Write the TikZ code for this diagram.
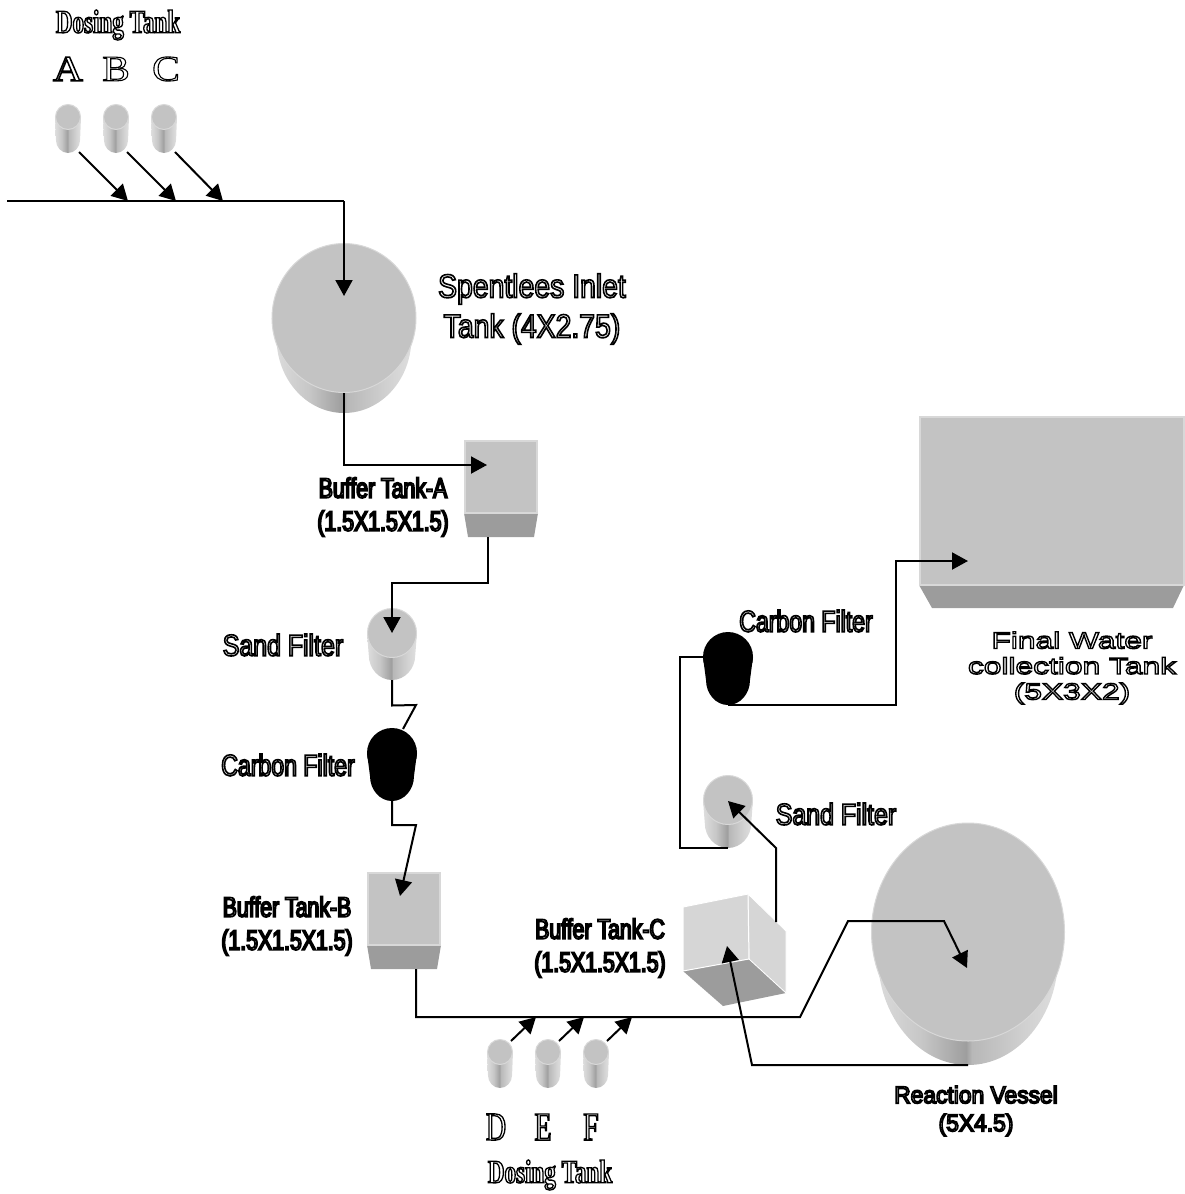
\documentclass[tikz,border=0pt]{standalone}
\usepackage{fontspec}
\usetikzlibrary{arrows.meta}
\setmainfont{Liberation Sans}
\newfontfamily\sansnorm[FakeStretch=0.86]{Liberation Sans}
\newfontfamily\sansbuffer[FakeStretch=0.76]{Liberation Sans}
\newfontfamily\sanssand[FakeStretch=0.83]{Liberation Sans}
\newfontfamily\sanscarbon[FakeStretch=0.77]{Liberation Sans}
\newfontfamily\sansvessel[FakeStretch=0.95]{Liberation Sans}
\newfontfamily\sanswide[FakeStretch=1.38]{Liberation Sans}
\newfontfamily\serifnarrow[FakeStretch=0.70]{Liberation Serif}
\newfontfamily\serifbold[FakeStretch=1.15]{Liberation Serif}
\newcommand{\olt}[1]{\special{pdf:code 1 Tr #1 w 0 0 0 RG}}
\pgfdeclarehorizontalshading{cylbody}{100bp}{rgb(0bp)=(.86,.86,.86);rgb(25bp)=(.87,.87,.87);rgb(38bp)=(.78,.78,.78);rgb(49.5bp)=(.62,.62,.62);rgb(51bp)=(.72,.72,.72);rgb(65bp)=(.82,.82,.82);rgb(75bp)=(.88,.88,.88);rgb(100bp)=(.88,.88,.88)}
\definecolor{tanktop}{HTML}{C3C3C3}
\definecolor{tankrim}{HTML}{D8D8D8}
\definecolor{tankside}{HTML}{9C9C9C}
\definecolor{cubeface}{HTML}{D6D6D6}
\tikzset{
  pipe/.style={line width=2pt,line join=miter},
  flow/.style={pipe,-{Triangle[length=16pt,width=17pt]}},
  label/.style={inner sep=0pt,align=center,text=black},
  lnorm/.style={label,font=\sansnorm\fontsize{33}{40}\selectfont},
  lbuffer/.style={label,font=\sansbuffer\fontsize{28}{33}\selectfont},
  lsand/.style={label,font=\sanssand\fontsize{30}{34}\selectfont},
  lcarbon/.style={label,font=\sanscarbon\fontsize{30}{34}\selectfont},
  lvess/.style={label,font=\sansvessel\fontsize{24}{28}\selectfont},
  lwide/.style={label,font=\sanswide\fontsize{23}{25.5}\selectfont},
  lserif/.style={label,font=\serifnarrow\bfseries\fontsize{33}{38}\selectfont},
  lletter/.style={label,font=\serifbold\fontsize{36}{40}\selectfont},
  lletterb/.style={label,font=\serifnarrow\fontsize{40}{40}\selectfont},
  boxtop/.style={fill=tanktop,draw=tankrim,line width=1.5pt},
  boxbase/.style={fill=tankside,draw=none},
}
% name, cx, cy, rx, ry, bottom
\newcommand{\cylgray}[6]{%
  \shade[shading=cylbody] ({#2-#4},#3) -- ({#2-.93*#4},{#6-#5}) arc[start angle=180,end angle=0,x radius={.93*#4},y radius=#5] -- ({#2+#4},#3) -- cycle;
  \fill[tanktop,draw=tankrim,line width=1pt] (#2,#3) ellipse[x radius={#4-.5},y radius={#5-.5}];
  \coordinate (#1) at (#2,#3);
  \coordinate (#1-b) at (#2,#6);
  \coordinate (#1-w) at ({#2-#4},#3);
}
\newcommand{\cylblack}[6]{%
  \fill[black] ({#2-#4},#3) -- ({#2-.88*#4},{#6-#5}) arc[start angle=180,end angle=0,x radius={.88*#4},y radius=#5] -- ({#2+#4},#3) -- cycle;
  \fill[black] (#2,#3) ellipse[x radius=#4,y radius=#5];
  \coordinate (#1) at (#2,#3);
  \coordinate (#1-b) at (#2,#6);
  \coordinate (#1-w) at ({#2-#4},#3);
}
\begin{document}
\begin{tikzpicture}[x=1pt,y=-1pt]
\useasboundingbox (0,0) rectangle (1185,1194);
% dosing tanks
\cylgray{tA}{68}{117}{13}{13}{153}
\cylgray{tB}{116}{117}{13}{13}{153}
\cylgray{tC}{164}{117}{13}{13}{153}
\cylgray{tD}{500}{1052}{13}{13}{1088}
\cylgray{tE}{548}{1052}{13}{13}{1088}
\cylgray{tF}{596}{1052}{13}{13}{1088}
% large tanks
\cylgray{inlet}{344}{318}{72.5}{75}{413}
\cylgray{vessel}{968}{932}{97}{109.5}{1065}
% filters
\cylgray{sandA}{392}{633}{25}{25}{680}
\cylgray{sandB}{728}{800}{25}{25}{848}
\cylblack{carbA}{392}{753}{25}{25}{801}
\cylblack{carbB}{728}{657}{25}{25}{705}
% buffer A
\fill[boxbase] (464,513) -- (538,513) -- (534,537) -- (468,537) -- cycle;
\path[boxtop] (465,441) rectangle (537,513);
\coordinate (bufA-in) at (487,465);
\coordinate (bufA-out) at (488,537);
% buffer B
\fill[boxbase] (367,945) -- (441,945) -- (437,969) -- (371,969) -- cycle;
\path[boxtop] (368,873) rectangle (440,945);
\coordinate (bufB-in) at (400,896);
\coordinate (bufB-out) at (416,969);
% final tank
\fill[boxbase] (919,585) -- (1184,585) -- (1173,608) -- (932,608) -- cycle;
\path[boxtop] (920,417) rectangle (1184,585);
\coordinate (final-in) at (968,561);
% buffer C
\fill[tankside] (683,971) -- (723,1006) -- (786,993) -- (749,959) -- cycle;
\path[fill=cubeface,draw=white,line width=.8pt] (748,894) -- (786,931) -- (786,993) -- (749,959) -- cycle;
\path[fill=cubeface,draw=white,line width=1pt] (683,907) -- (748,894) -- (749,959) -- (683,971) -- cycle;
\coordinate (bufC-in) at (727,946);
\coordinate (bufC-out) at (776,922);
% bends and free ends
\coordinate (mainstart) at (7,201);
\coordinate (mainbend) at (344,201);
\coordinate (joinA) at (128,201);
\coordinate (joinB) at (176,201);
\coordinate (joinC) at (223,201);
\coordinate (joinD) at (536,1017);
\coordinate (joinE) at (584,1017);
\coordinate (joinF) at (632,1017);
\coordinate (inlet-in) at (344,296);
\coordinate (inlet-out) at (344,393);
\coordinate (sandA-in) at (392,633);
\coordinate (sandB-in) at (728,801);
\coordinate (vessel-in) at (967,968);
% connectors
\draw[pipe] (mainstart) -- (mainbend);
\draw[flow] (mainbend) -- (inlet-in);
\draw[flow] (79,152) -- (joinA);
\draw[flow] (127,152) -- (joinB);
\draw[flow] (175,152) -- (joinC);
\draw[flow] (inlet-out) |- (bufA-in);
\draw[flow] (bufA-out) -- (488,583) -- (392,583) -- (sandA-in);
\draw[pipe] (sandA-b) -- (392,705.5) -- (416,705) -- (403,729);
\draw[flow] (carbA-b) -- (392,825) -- (416,825) -- (bufB-in);
\draw[flow] (bufB-out) -- (416,1017) -- (800,1017) -- (848,921) -- (944,921) -- (vessel-in);
\draw[flow] (511,1041) -- (joinD);
\draw[flow] (559,1041) -- (joinE);
\draw[flow] (607,1041) -- (joinF);
\draw[flow] (vessel-b) -- (752,1065) -- (bufC-in);
\draw[flow] (bufC-out) -- (776,848) -- (sandB-in);
\draw[pipe] (sandB-b) -- (680,848) -- (680,657) -- (carbB-w);
\draw[flow] (carbB-b) -- (896,705) -- (896,561) -- (final-in);
% labels
\node[lserif] (dosing1) at (118,25) {\olt{1.3}Dosing Tank};
\node[lletter] (lA) at (68,69) {\olt{1.5}A};
\node[lletter] (lB) at (116,69) {\olt{1.1}B};
\node[lletter] (lC) at (166,69) {\olt{1.1}C};
\node[lnorm] (linlet) at (532,309) {\olt{1.6}Spentlees Inlet\\\olt{1.6}Tank (4X2.75)};
\node[lbuffer] (lbufA) at (383,507) {\olt{1.7}Buffer Tank-A\\\olt{1.7}(1.5X1.5X1.5)};
\node[lsand] (lsandA) at (283,645) {\olt{1.6}Sand Filter};
\node[lcarbon] (lcarbA) at (288,765) {\olt{1.6}Carbon Filter};
\node[lbuffer] (lbufB) at (287,926) {\olt{1.7}Buffer Tank-B\\\olt{1.7}(1.5X1.5X1.5)};
\node[lbuffer] (lbufC) at (600,948) {\olt{1.7}Buffer Tank-C\\\olt{1.7}(1.5X1.5X1.5)};
\node[lcarbon] (lcarbB) at (806,621) {\olt{1.6}Carbon Filter};
\node[lsand] (lsandB) at (836,814) {\olt{1.6}Sand Filter};
\node[lwide] (lfinal) at (1072,668) {\olt{1.4}Final Water\\\olt{1.4}collection Tank\\\olt{1.4}(5X3X2)};
\node[lvess] (lvessel) at (976,1111) {\olt{1.6}Reaction Vessel\\\olt{1.6}(5X4.5)};
\node[lletterb] (lD) at (496,1127) {\olt{1.3}D};
\node[lletterb] (lE) at (543,1127) {\olt{1.3}E};
\node[lletterb] (lF) at (591,1127) {\olt{1.3}F};
\node[lserif] (dosing2) at (550,1175) {\olt{1.3}Dosing Tank};
\end{tikzpicture}
\end{document}
